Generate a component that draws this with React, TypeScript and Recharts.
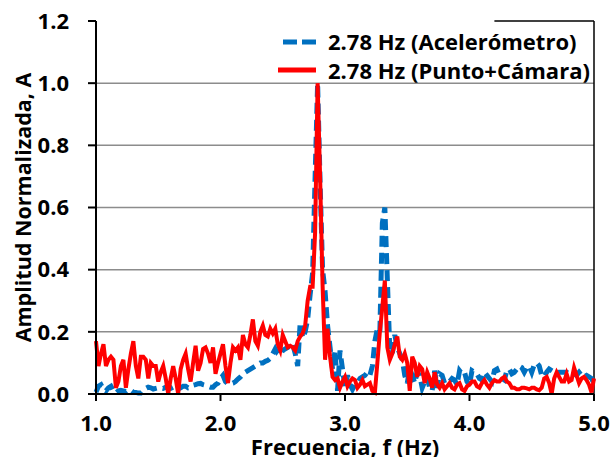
import React from 'react';
import { LineChart, Line, XAxis, YAxis, CartesianGrid, ReferenceLine } from 'recharts';

// frequency axis, Hz
const freqs = [
  1.00, 1.02, 1.04, 1.06, 1.08, 1.10, 1.12, 1.14, 1.16, 1.18,
  1.20, 1.22, 1.24, 1.26, 1.28, 1.30, 1.32, 1.34, 1.36, 1.38,
  1.40, 1.42, 1.44, 1.46, 1.48, 1.50, 1.52, 1.54, 1.56, 1.58,
  1.60, 1.62, 1.64, 1.66, 1.68, 1.70, 1.72, 1.74, 1.76, 1.78,
  1.80, 1.82, 1.84, 1.86, 1.88, 1.90, 1.92, 1.94, 1.96, 1.98,
  2.00, 2.02, 2.04, 2.06, 2.08, 2.10, 2.12, 2.14, 2.16, 2.18,
  2.20, 2.22, 2.24, 2.26, 2.28, 2.30, 2.32, 2.34, 2.36, 2.38,
  2.40, 2.42, 2.44, 2.46, 2.48, 2.50, 2.52, 2.54, 2.56, 2.58,
  2.60, 2.62, 2.64, 2.66, 2.68, 2.70, 2.72, 2.74, 2.76, 2.78,
  2.80, 2.82, 2.84, 2.86, 2.88, 2.90, 2.92, 2.94, 2.96, 2.98,
  3.00, 3.02, 3.04, 3.06, 3.08, 3.10, 3.12, 3.14, 3.16, 3.18,
  3.20, 3.22, 3.24, 3.26, 3.28, 3.30, 3.32, 3.34, 3.36, 3.38,
  3.40, 3.42, 3.44, 3.46, 3.48, 3.50, 3.52, 3.54, 3.56, 3.58,
  3.60, 3.62, 3.64, 3.66, 3.68, 3.70, 3.72, 3.74, 3.76, 3.78,
  3.80, 3.82, 3.84, 3.86, 3.88, 3.90, 3.92, 3.94, 3.96, 3.98,
  4.00, 4.02, 4.04, 4.06, 4.08, 4.10, 4.12, 4.14, 4.16, 4.18,
  4.20, 4.22, 4.24, 4.26, 4.28, 4.30, 4.32, 4.34, 4.36, 4.38,
  4.40, 4.42, 4.44, 4.46, 4.48, 4.50, 4.52, 4.54, 4.56, 4.58,
  4.60, 4.62, 4.64, 4.66, 4.68, 4.70, 4.72, 4.74, 4.76, 4.78,
  4.80, 4.82, 4.84, 4.86, 4.88, 4.90, 4.92, 4.94, 4.96, 4.98,
  5.00,
];

// 2.78 Hz (Acelerómetro)
const acelerometro = [
  0.006, 0.025, 0.03, 0.015, 0.01, 0.02, 0.025, 0.01, 0.003, 0.01,
  0.012, 0.01, 0.008, 0.014, 0.012, 0.006, 0.005, 0.003, 0.003, 0.012,
  0.018, 0.022, 0.02, 0.016, 0.018, 0.02, 0.02, 0.018, 0.022, 0.02,
  0.018, 0.022, 0.018, 0.016, 0.02, 0.025, 0.025, 0.02, 0.022, 0.028,
  0.03, 0.033, 0.034, 0.03, 0.028, 0.025, 0.022, 0.022, 0.03, 0.035,
  0.05, 0.06, 0.04, 0.033, 0.033, 0.035, 0.04, 0.048, 0.055, 0.065,
  0.07, 0.075, 0.08, 0.085, 0.09, 0.095, 0.10, 0.10, 0.105, 0.108,
  0.115, 0.13, 0.145, 0.13, 0.125, 0.14, 0.145, 0.15, 0.165, 0.16,
  0.13, 0.09, 0.23, 0.18, 0.20, 0.24, 0.32, 0.39, 0.70, 1.0,
  0.68, 0.40, 0.33, 0.22, 0.15, 0.08, 0.14, 0.01, 0.14, 0.08,
  0.02, 0.06, 0.03, 0.015, 0.03, 0.035, 0.05, 0.055, 0.06, 0.07,
  0.06, 0.09, 0.17, 0.21, 0.20, 0.55, 0.60, 0.37, 0.14, 0.13,
  0.19, 0.15, 0.13, 0.11, 0.06, 0.035, 0.08, 0.06, 0.035, 0.07,
  0.06, 0.02, 0.04, 0.055, 0.02, 0.01, 0.075, 0.02, 0.065, 0.06,
  0.035, 0.035, 0.04, 0.05, 0.045, 0.03, 0.075, 0.065, 0.07, 0.04,
  0.03, 0.075, 0.07, 0.065, 0.05, 0.045, 0.07, 0.06, 0.05, 0.04,
  0.075, 0.08, 0.06, 0.05, 0.045, 0.075, 0.08, 0.065, 0.07, 0.08,
  0.09, 0.085, 0.07, 0.085, 0.09, 0.07, 0.095, 0.10, 0.09, 0.06,
  0.055, 0.07, 0.08, 0.075, 0.07, 0.065, 0.07, 0.07, 0.07, 0.07,
  0.065, 0.06, 0.065, 0.06, 0.07, 0.06, 0.055, 0.06, 0.055, 0.05,
  0.035,
];

// 2.78 Hz (Punto+Cámara)
const puntoCamara = [
  0.17, 0.09, 0.13, 0.16, 0.09, 0.11, 0.12, 0.11, 0.02, 0.04,
  0.09, 0.11, 0.02, 0.08, 0.13, 0.17, 0.09, 0.05, 0.12, 0.12,
  0.11, 0.05, 0.10, 0.09, 0.09, 0.04, 0.07, 0.09, 0.05, 0.00,
  0.05, 0.09, 0.05, 0.00, 0.08, 0.11, 0.13, 0.08, 0.04, 0.10,
  0.155, 0.075, 0.10, 0.145, 0.15, 0.13, 0.10, 0.15, 0.065, 0.10,
  0.13, 0.16, 0.09, 0.035, 0.10, 0.15, 0.14, 0.15, 0.11, 0.19,
  0.16, 0.15, 0.19, 0.24, 0.17, 0.155, 0.20, 0.22, 0.19, 0.185,
  0.21, 0.195, 0.21, 0.16, 0.14, 0.19, 0.17, 0.15, 0.155, 0.15,
  0.14, 0.17, 0.185, 0.195, 0.22, 0.30, 0.345, 0.345, 0.52, 1.0,
  0.70, 0.35, 0.11, 0.21, 0.12, 0.055, 0.045, 0.05, 0.02, 0.04,
  0.055, 0.025, 0.04, 0.05, 0.045, 0.02, 0.03, 0.045, 0.025, 0.03,
  0.035, 0.01, 0.005, 0.10, 0.20, 0.28, 0.365, 0.15, 0.11, 0.13,
  0.16, 0.185, 0.12, 0.11, 0.13, 0.10, 0.01, 0.12, 0.10, 0.055,
  0.09, 0.08, 0.035, 0.07, 0.05, 0.02, 0.07, 0.03, 0.02, 0.035,
  0.015, 0.025, 0.035, 0.02, 0.015, 0.03, 0.035, 0.015, 0.01, 0.025,
  0.03, 0.04, 0.04, 0.025, 0.02, 0.035, 0.045, 0.03, 0.02, 0.035,
  0.045, 0.04, 0.04, 0.05, 0.055, 0.04, 0.035, 0.02, 0.02, 0.015,
  0.015, 0.02, 0.02, 0.018, 0.015, 0.02, 0.02, 0.015, 0.012, 0.02,
  0.05, 0.055, 0.035, 0.00, 0.05, 0.07, 0.055, 0.04, 0.04, 0.065,
  0.04, 0.045, 0.085, 0.06, 0.035, 0.05, 0.055, 0.045, 0.03, 0.005,
  0.05,
];

const xTicks = [1, 2, 3, 4, 5];
const yTicks = [0, 0.2, 0.4, 0.6, 0.8, 1.0, 1.2];
const gridValues = [0.2, 0.4, 0.6, 0.8, 1.0];

const FONT = '"Open Sans", sans-serif';
const BLUE = '#0070C0';
const RED = '#FF0000';

const chartData = freqs.map((f, i) => ({
  f,
  acel: acelerometro[i],
  punto: puntoCamara[i],
}));

// legend drawn as an overlay so it doesn't steal plot space
const LegendBox = () => (
  <div style={{ position: 'absolute', left: 276, top: 27, fontFamily: FONT, fontWeight: 700, fontSize: 22, color: '#000', lineHeight: '29px' }}>
    <div style={{ display: 'flex', alignItems: 'center', whiteSpace: 'nowrap' }}>
      <svg width={52} height={29}>
        <line x1={7} y1={15} x2={41} y2={15} stroke={BLUE} strokeWidth={5} strokeDasharray="14 5" />
      </svg>
      <span>2.78 Hz (Acelerómetro)</span>
    </div>
    <div style={{ display: 'flex', alignItems: 'center', whiteSpace: 'nowrap' }}>
      <svg width={52} height={29}>
        <line x1={2} y1={14} x2={40} y2={14} stroke={RED} strokeWidth={5} />
      </svg>
      <span>2.78 Hz (Punto+Cámara)</span>
    </div>
  </div>
);

const YLabel = ({ viewBox }: any) => {
  const cx = viewBox.x + 22;
  const cy = viewBox.y + viewBox.height / 2;
  return (
    <text x={cx} y={cy} transform={`rotate(-90 ${cx} ${cy})`} textAnchor="middle" dominantBaseline="central"
      style={{ fontFamily: FONT, fontWeight: 700, fontSize: 21.5, fill: '#000' }}>
      Amplitud Normalizada, A
    </text>
  );
};

const XLabel = ({ viewBox }: any) => (
  <text x={viewBox.x + viewBox.width / 2} y={viewBox.y + 61} textAnchor="middle"
    style={{ fontFamily: FONT, fontWeight: 700, fontSize: 22, fill: '#000' }}>
    Frecuencia, f (Hz)
  </text>
);

const tickStyle = { fontFamily: FONT, fontWeight: 700, fontSize: 22, fill: '#000' };

export default function App() {
  return (
    <div style={{ position: 'absolute', left: 0, top: 0, width: 611, height: 457, background: '#fff', overflow: 'hidden' }}>
      <LineChart width={611} height={457} data={chartData} margin={{ top: 21, right: 17, bottom: 0, left: 0 }}>
        <CartesianGrid horizontal vertical={false} horizontalValues={gridValues} stroke="#8c8c8c" strokeWidth={1.5} />
        <XAxis
          dataKey="f"
          type="number"
          domain={[1, 5]}
          ticks={xTicks}
          height={63}
          tickFormatter={(v: number) => v.toFixed(1)}
          tick={tickStyle}
          tickSize={7}
          tickMargin={14}
          axisLine={{ stroke: '#000', strokeWidth: 2 }}
          tickLine={{ stroke: '#000', strokeWidth: 2 }}
          label={<XLabel />}
        />
        <YAxis
          type="number"
          domain={[0, 1.2]}
          ticks={yTicks}
          width={96}
          tickFormatter={(v: number) => v.toFixed(1)}
          tick={tickStyle}
          tickSize={8}
          tickMargin={19}
          axisLine={{ stroke: '#000', strokeWidth: 2 }}
          tickLine={{ stroke: '#000', strokeWidth: 2 }}
          label={<YLabel />}
        />
        <ReferenceLine x={5} stroke="#000" strokeWidth={1.5} />
        <ReferenceLine segment={[{ x: 4.2, y: 1.2 }, { x: 5, y: 1.2 }]} stroke="#000" strokeWidth={1.5} />
        <Line type="linear" dataKey="acel" stroke={BLUE} strokeWidth={5} strokeDasharray="11 6" dot={false} isAnimationActive={false} />
        <Line type="linear" dataKey="punto" stroke={RED} strokeWidth={4} dot={false} isAnimationActive={false} />
      </LineChart>
      <LegendBox />
    </div>
  );
}
